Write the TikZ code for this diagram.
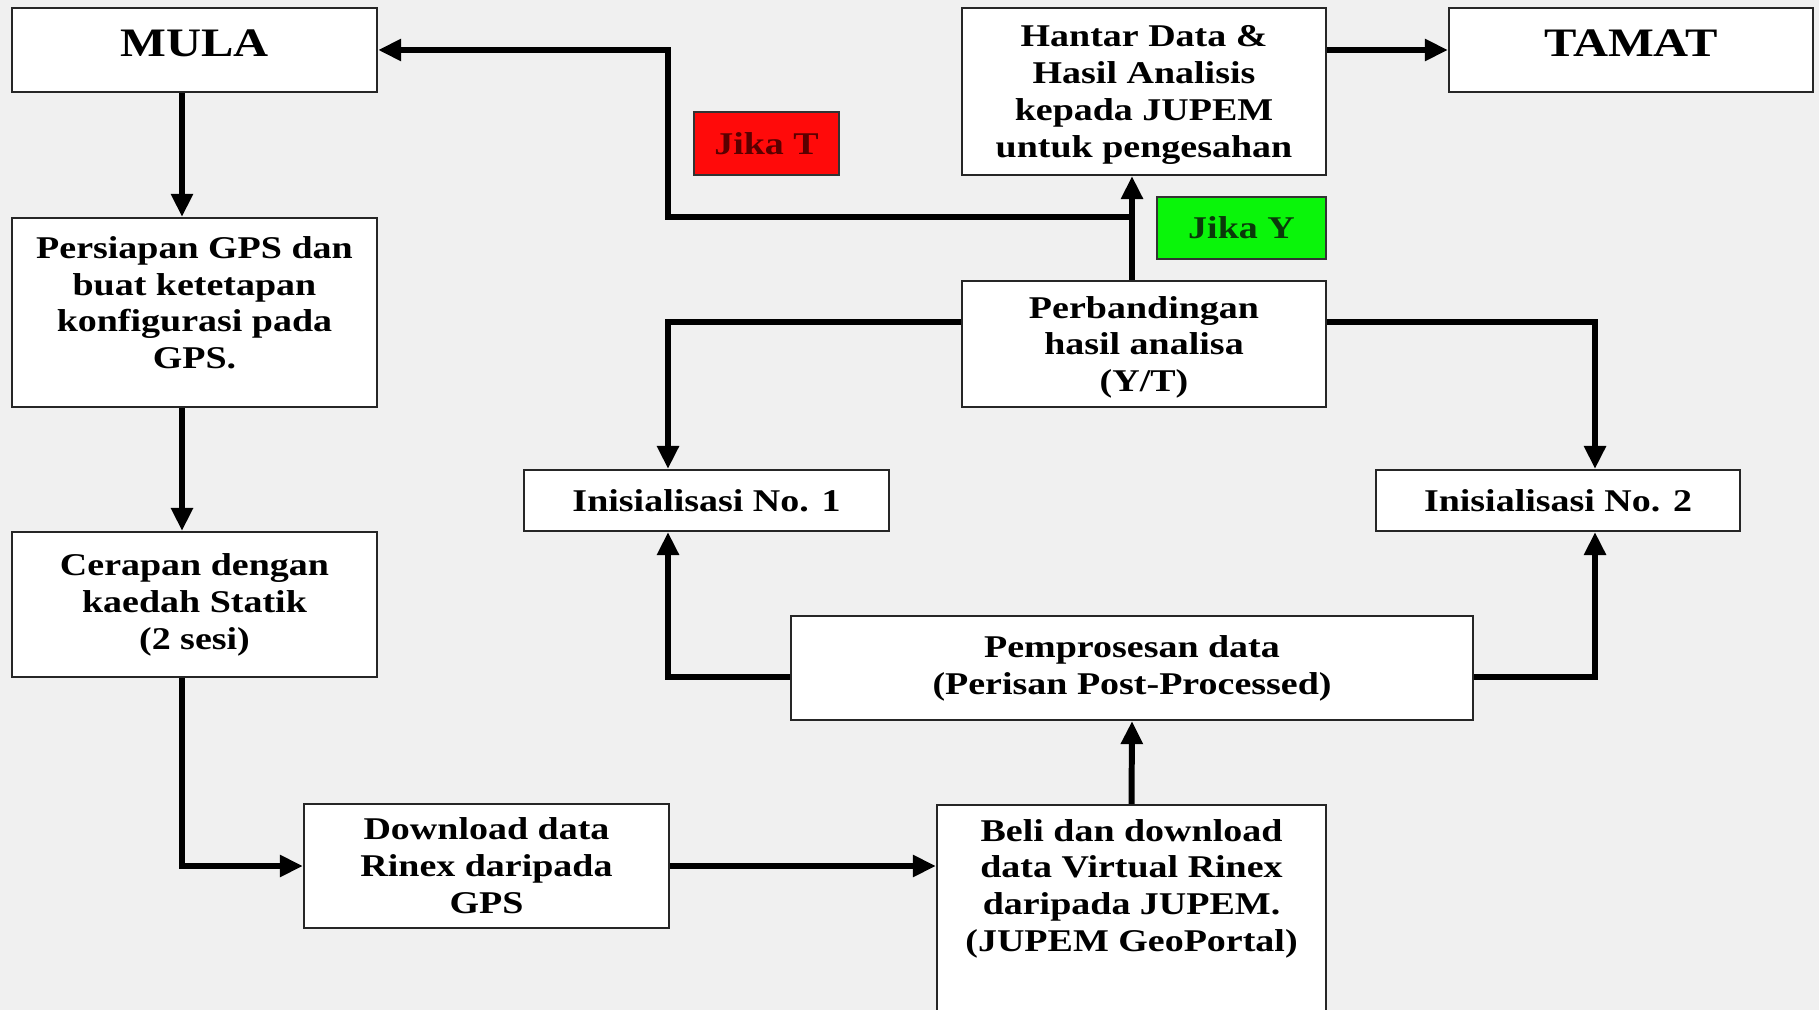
\documentclass[tikz,border=0pt]{standalone}
\usepackage{fontspec}
\setmainfont{Liberation Serif}[FakeStretch=1.2]
\usetikzlibrary{arrows.meta, positioning, calc}
\definecolor{PageGrey}{HTML}{F0F0F0}
\definecolor{FlagRed}{HTML}{FF0A0A}
\definecolor{FlagGreen}{HTML}{0AF50A}
\definecolor{DeepRed}{HTML}{5A0000}
\definecolor{DeepGreen}{HTML}{0A3A0A}

\tikzset{
    stepbox/.style={draw=black!85, fill=white, line width=0.6pt, align=center, inner sep=0pt,
        font=\bfseries\fontsize{9}{10.5}\selectfont},
    endbox/.style={stepbox, font=\bfseries\fontsize{11.5}{11.5}\selectfont},
    tagbox/.style={draw=black!80, line width=0.6pt, inner sep=0pt,
        font=\bfseries\fontsize{9}{10.5}\selectfont},
    flow/.style={line width=1.7pt, -{Triangle[length=2.3mm, width=2.1mm]}},
}

\begin{document}
\begin{tikzpicture}[x=0.01cm, y=-0.01cm]
        % Page
        \useasboundingbox (0,0) rectangle (1819,1010);
        \fill[PageGrey] (0,0) rectangle (1819,1010);
        \clip (0,0) rectangle (1819,1010);

        % Columns and rows of the connectors
        \coordinate (colA) at (182,0);
        \coordinate (colB) at (668,0);
        \coordinate (colC) at (1132,0);
        \coordinate (colD) at (1595,0);
        \coordinate (rowQ) at (0,322);
        \coordinate (rowP) at (0,677);
        \coordinate (split) at (1132,217);

        % Boxes
        \node[endbox, minimum width=3.65cm, minimum height=0.84cm, text depth=0.14cm] (mula) at (194.5,50) {MULA};
        \node[endbox, minimum width=3.64cm, minimum height=0.84cm, text depth=0.14cm] (tamat) at (1631,50) {TAMAT};
        \node[stepbox, minimum width=3.64cm, minimum height=1.67cm, text depth=-0.05cm] (hantar) at (1144,91.5)
            {Hantar Data \&\\Hasil Analisis\\kepada JUPEM\\untuk pengesahan};
        \node[stepbox, minimum width=3.64cm, minimum height=1.26cm, text depth=-0.07cm] (banding) at (1144,344)
            {Perbandingan\\hasil analisa\\(Y/T)};
        \node[stepbox, minimum width=3.65cm, minimum height=1.89cm, text depth=0.2cm] (persiapan) at (194.5,312.5)
            {Persiapan GPS dan\\buat ketetapan\\konfigurasi pada\\GPS.};
        \node[stepbox, minimum width=3.65cm, minimum height=0.61cm] (init1) at (706.5,500.5)
            {Inisialisasi No. 1};
        \node[stepbox, minimum width=3.64cm, minimum height=0.61cm] (init2) at (1558,500.5)
            {Inisialisasi No. 2};
        \node[stepbox, minimum width=3.65cm, minimum height=1.45cm] (cerapan) at (194.5,604.5)
            {Cerapan dengan\\kaedah Statik\\(2 sesi)};
        \node[stepbox, minimum width=6.82cm, minimum height=1.04cm] (pemproses) at (1132,668)
            {Pemprosesan data\\(Perisan Post-Processed)};
        \node[stepbox, minimum width=3.65cm, minimum height=1.24cm] (download) at (486.5,866)
            {Download data\\Rinex daripada\\GPS};
        \node[stepbox, anchor=north, minimum width=3.89cm, inner ysep=0.14cm, text depth=1cm] (beli) at (1131.5,804)
            {Beli dan download\\data Virtual Rinex\\daripada JUPEM.\\(JUPEM GeoPortal)};

        % Y/T tags
        \node[tagbox, fill=FlagRed, text=DeepRed, minimum width=1.45cm, minimum height=0.63cm] (jikaT) at (766.5,143.5) {Jika T};
        \node[tagbox, fill=FlagGreen, text=DeepGreen, minimum width=1.69cm, minimum height=0.62cm] (jikaY) at (1241.5,228) {Jika Y};

        % Connectors
        \draw[flow] (mula.south -| colA) -- (persiapan.north -| colA);
        \draw[flow] (persiapan.south -| colA) -- (cerapan.north -| colA);
        \draw[flow] (cerapan.south -| colA) |- (download.west);
        \draw[flow] (download.east) -- (download.east -| beli.west);
        \draw[flow] (beli.north) -- (pemproses.south);
        \draw[flow] (pemproses.west |- rowP) -| (init1.south -| colB);
        \draw[flow] (pemproses.east |- rowP) -| (init2.south -| colD);
        \draw[flow] (banding.west |- rowQ) -| (init1.north -| colB);
        \draw[flow] (banding.east |- rowQ) -| (init2.north -| colD);
        \draw[flow] (banding.north -| colC) -- (hantar.south -| colC);
        \draw[flow] (split) -| (colB |- mula.east) -- (mula.east);
        \draw[flow] (hantar.east |- mula.east) -- (tamat.west);

\end{tikzpicture}
\end{document}
